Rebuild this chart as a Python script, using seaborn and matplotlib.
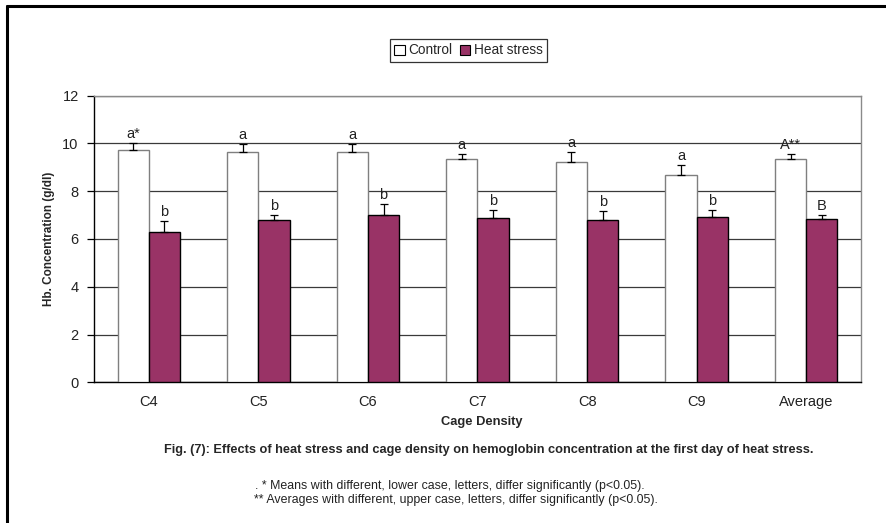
import matplotlib
matplotlib.use("Agg")
import matplotlib.pyplot as plt
from matplotlib.lines import Line2D
from matplotlib.patches import Patch
import numpy as np
import pandas as pd
import seaborn as sns

# ---- data ----
categories = ["C4", "C5", "C6", "C7", "C8", "C9", "Average"]
series = ["Control", "Heat stress"]
control = [9.72, 9.65, 9.62, 9.33, 9.20, 8.67, 9.36]
heat = [6.28, 6.79, 6.99, 6.86, 6.79, 6.92, 6.82]
control_err = [0.28, 0.33, 0.35, 0.21, 0.45, 0.41, 0.18]
heat_err = [0.48, 0.20, 0.47, 0.33, 0.38, 0.28, 0.18]
control_letters = ["a*", "a", "a", "a", "a", "a", "A**"]
heat_letters = ["b", "b", "b", "b", "b", "b", "B"]
yticks = [0, 2, 4, 6, 8, 10, 12]

sns.set_theme(style="white")
plt.rcParams["font.family"] = ["Liberation Sans", "DejaVu Sans"]

df = pd.DataFrame({
    "Cage Density": categories * 2,
    "value": control + heat,
    "group": [series[0]] * len(categories) + [series[1]] * len(categories),
})

fig = plt.figure(figsize=(8.87, 5.23), dpi=100)
ax = fig.add_axes([94 / 887, 1 - 382.3 / 523, (861 - 94) / 887, (382.3 - 95.5) / 523])

colors = {"Control": "#FFFFFF", "Heat stress": "#993366"}
sns.barplot(data=df, x="Cage Density", y="value", hue="group", order=categories,
            hue_order=series, palette=colors, saturation=1, width=0.57, gap=0,
            errorbar=None, ax=ax, legend=False, zorder=3)

n = len(categories)
for i, patch in enumerate(ax.patches):
    if i < n:
        patch.set_edgecolor("#7f7f7f")
    else:
        patch.set_edgecolor("#000000")
    patch.set_linewidth(1.0)

for i, patch in enumerate(ax.patches[:2 * n]):
    xc = patch.get_x() + patch.get_width() / 2
    h = patch.get_height()
    if i < n:
        e = control_err[i]
        lab = control_letters[i]
    else:
        e = heat_err[i - n]
        lab = heat_letters[i - n]
    ax.errorbar([xc], [h], yerr=[[0], [e]], fmt="none", ecolor="black",
                elinewidth=0.9, capsize=3, capthick=0.9, zorder=4)
    ax.text(xc, h + e + 0.38, lab, ha="center", va="center", fontsize=10.5,
            color="#222222", zorder=5)

ax.set_ylim(0, 12)
ax.set_xlim(-0.5, n - 0.5)
ax.set_yticks(yticks)
ax.set_yticklabels([str(t) for t in yticks], fontsize=10.5, color="#222222")
ax.yaxis.grid(True, color="#3a3a3a", linewidth=0.9, zorder=0)
ax.set_axisbelow(True)

ax.set_xticks(range(n))
ax.set_xticklabels(categories, fontsize=10.5, color="#222222")
ax.set_xticks(np.arange(-0.5, n, 1.0), minor=True)
ax.tick_params(axis="x", which="major", length=0, pad=9)
ax.tick_params(axis="x", which="minor", length=5, width=0.9, color="black", direction="out")
ax.tick_params(axis="y", which="major", length=5, width=0.9, color="black",
               direction="out", left=True, pad=6)

for s in ["top", "right"]:
    ax.spines[s].set_color("#8a8a8a")
    ax.spines[s].set_linewidth(1.0)
for s in ["left", "bottom"]:
    ax.spines[s].set_color("black")
    ax.spines[s].set_linewidth(1.0)

ax.set_xlabel("")
ax.set_ylabel("Hb. Concentration (g/dl)", fontsize=8.5, fontweight="bold", labelpad=5)
fig.text(482 / 887, 1 - 422 / 523, "Cage Density", ha="center", va="center",
         fontsize=9.3, fontweight="bold")

handles = [Patch(facecolor=colors[s], edgecolor="black", linewidth=0.8, label=s) for s in series]
leg = fig.legend(handles=handles, loc="center", bbox_to_anchor=(468.5 / 887, 1 - 50.5 / 523),
                 ncol=2, fontsize=9.8, frameon=True, fancybox=False, handlelength=0.75,
                 handleheight=0.75, handletextpad=0.25, columnspacing=0.6,
                 borderpad=0.3, borderaxespad=0)
leg.get_frame().set_edgecolor("black")
leg.get_frame().set_linewidth(0.9)

fig.text(489 / 887, 1 - 450 / 523,
         "Fig. (7): Effects of heat stress and cage density on hemoglobin concentration at the first day of heat stress.",
         ha="center", va="center", fontsize=9.15, fontweight="bold")
fig.text(450 / 887, 1 - 486 / 523,
         ". * Means with different, lower case, letters, differ significantly (p<0.05).",
         ha="center", va="center", fontsize=8.9, color="#222222")
fig.text(455.5 / 887, 1 - 500 / 523,
         "** Averages with different, upper case, letters, differ significantly (p<0.05).",
         ha="center", va="center", fontsize=8.9, color="#222222")

fig.add_artist(Line2D([7 / 887, 1.0], [1 - 5.5 / 523, 1 - 5.5 / 523], transform=fig.transFigure,
                      color="black", linewidth=2.2))
fig.add_artist(Line2D([7 / 887, 7 / 887], [0.0, 1 - 5.5 / 523], transform=fig.transFigure,
                      color="black", linewidth=2.2))

fig.savefig("out.png", dpi=100)
